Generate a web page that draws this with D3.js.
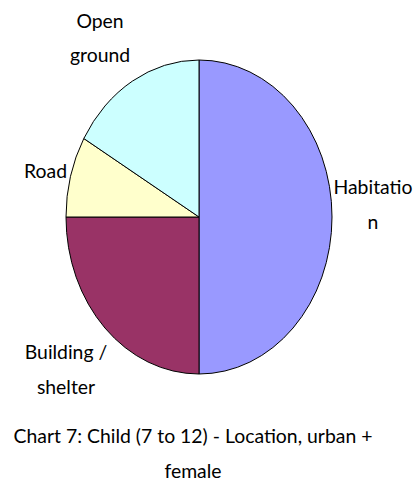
<!DOCTYPE html>
<html><head><meta charset="utf-8">
<script src="https://cdn.jsdelivr.net/npm/d3@7"></script>
<style>body{margin:0;background:#fff;overflow:hidden}</style>
</head><body>
<script>
// ---- data ----
const categories = ["Habitation", "Building / shelter", "Road", "Open ground"];
const values = [6, 3, 1, 2];
const colors = ["#9999FF", "#993366", "#FFFFCC", "#CCFFFF"];
const labelLines = [["Habitatio", "n"], ["Building /", "shelter"], ["Road"], ["Open", "ground"]];
const titleLines = ["Chart 7: Child (7 to 12) - Location, urban +", "female"];

// ---- layout ----
const W = 419, H = 482;
const cx = 199, cy = 217, rx = 133, ry = 157;
const lineGap = 34.5;
const fontFamily = "'Comic Sans MS', Lato, 'Open Sans', sans-serif";
const fontSize = 19.4, vStretch = 1.0;
// label anchor (x, first baseline, anchor) per slice
const labelPos = [
  {x: 373, y: 194.3, a: "middle"},
  {x: 66, y: 359, a: "middle"},
  {x: 67, y: 177.5, a: "end"},
  {x: 100, y: 27.5, a: "middle"}
];

const svg = d3.select("body").append("svg").attr("width", W).attr("height", H);

const pie = d3.pie().sort(null).value(d => d)(values);
const arc = d3.arc().innerRadius(0).outerRadius(rx);

svg.append("g")
  .attr("transform", `translate(${cx},${cy}) scale(1,${ry / rx})`)
  .selectAll("path").data(pie).join("path")
  .attr("d", arc)
  .attr("fill", (d, i) => colors[i])
  .attr("stroke", "#000")
  .attr("stroke-width", 1)
  .attr("vector-effect", "non-scaling-stroke")
  .attr("stroke-linejoin", "round");

function addText(str, x, y, anchor) {
  return svg.append("text")
    .attr("transform", `translate(${x},${y}) scale(1,${vStretch})`)
    .attr("text-anchor", anchor)
    .attr("font-family", fontFamily)
    .attr("font-size", fontSize)
    .attr("fill", "#000")
    .text(str);
}

pie.forEach((d, i) => {
  const p = labelPos[i];
  labelLines[i].forEach((ln, j) => addText(ln, p.x, p.y + j * lineGap, p.a));
});

titleLines.forEach((ln, j) => addText(ln, 193, 443.3 + j * lineGap, "middle"));
</script>
</body></html>
